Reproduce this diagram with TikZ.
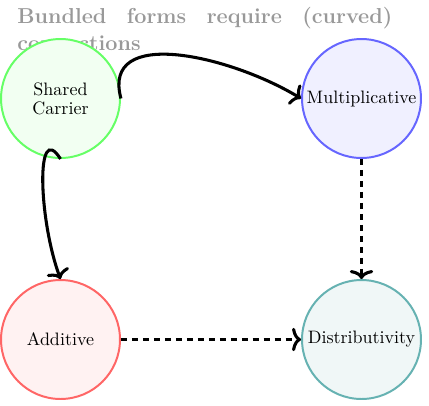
\documentclass[tikz,border=0pt]{standalone}
\usetikzlibrary{arrows.meta}
\begin{document}
\begin{tikzpicture}[x=0.5556pt,y=-0.5556pt]
\tikzset{
  circ/.style={circle, minimum size=66.1pt, inner sep=0pt, line width=1.1pt,
    font=\fontsize{10}{10.5}\selectfont, align=center},
  conn/.style={-{Computer Modern Rightarrow[length=5pt,width=13pt]}, line width=1.7pt, black},
  dconn/.style={conn, dash pattern=on 3.6pt off 2.5pt},
  titlestyle/.style={text=black!40, font=\fontsize{12}{15}\selectfont\bfseries,
    text width=208.3pt, align=justify, inner sep=0pt, anchor=base west}
}
\useasboundingbox (0,0) rectangle (429,405);
\fill[white] (0,0) rectangle (429,405);
\node[titlestyle] (title) at (17,23.5) {Bundled forms require (curved) connections};
\node[circ, draw=green!60, fill=green!5] (sc) at (60.5,98.5) {Shared\\Carrier};
\node[circ, draw=blue!60, fill=blue!6] (mu) at (361.5,98.5) {Multiplicative};
\node[circ, draw=red!60, fill=red!5] (ad) at (60.5,339.5) {Additive};
\node[circ, draw=teal!60, fill=teal!6] (di) at (361.5,339.5) {Distributivity};
\draw[conn] (sc.east) .. controls +(-20,-73) and +(-71,-43) .. (mu.west);
\draw[conn] (sc.south) .. controls +(-25,-40) and +(-22,-60) .. (ad.north);
\draw[dconn] (mu.south) -- (di.north);
\draw[dconn] (ad.east) -- (di.west);
\end{tikzpicture}
\end{document}
